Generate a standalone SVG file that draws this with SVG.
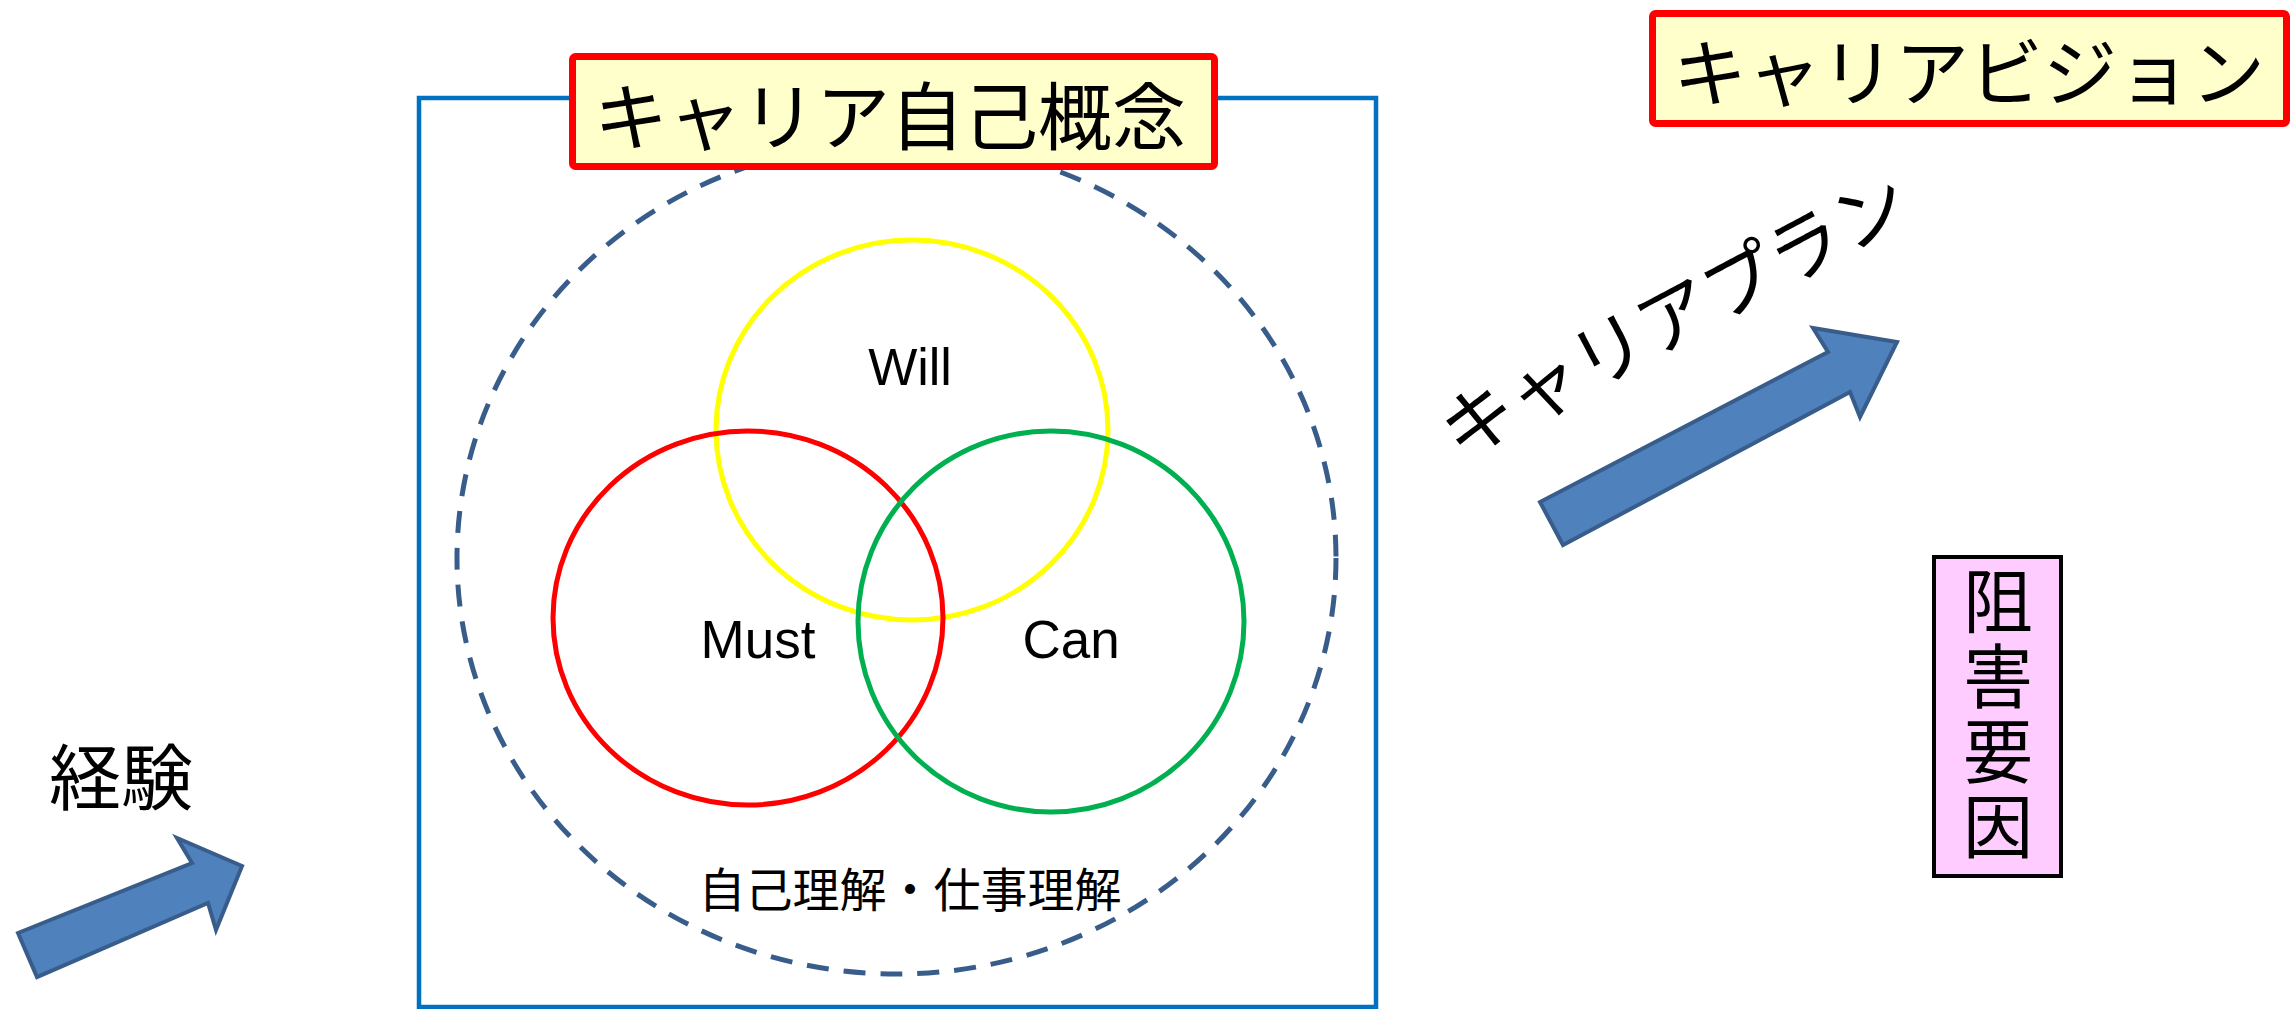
<svg xmlns="http://www.w3.org/2000/svg" width="2293" height="1009" viewBox="0 0 2293 1009">
<style>
  .jp { font-family: "Noto Sans CJK JP", "Noto Sans", sans-serif; fill: #000; }
  .lat { font-family: "Liberation Sans", Arial, sans-serif; fill: #000; }
  .label { fill: #FFFFCC; stroke: #FF0000; stroke-width: 7; }
  .venn { fill: none; stroke-width: 5; }
  .barrow { fill: #4F81BD; stroke: #385D8A; stroke-width: 4; stroke-linejoin: miter; }
</style>
<rect width="2293" height="1009" fill="#FFFFFF"/>

<g id="self-concept-frame">
  <rect x="419" y="98" width="957" height="909" fill="none" stroke="#0070C0" stroke-width="4.5"/>
</g>

<g id="understanding">
  <ellipse cx="896.5" cy="558" rx="439.5" ry="416" fill="none" stroke="#385D8A" stroke-width="5" stroke-dasharray="22 15"/>
  <text class="jp" x="910" y="907" font-size="47" text-anchor="middle">自己理解・仕事理解</text>
</g>

<g id="will">
  <ellipse class="venn" cx="912" cy="430" rx="196" ry="190" stroke="#FFFF00"/>
  <text class="lat" x="910" y="385" font-size="52" text-anchor="middle">Will</text>
</g>
<g id="must">
  <ellipse class="venn" cx="748" cy="618" rx="195" ry="187" stroke="#FF0000"/>
  <text class="lat" x="758" y="658" font-size="53" text-anchor="middle">Must</text>
</g>
<g id="can">
  <ellipse class="venn" cx="1051" cy="621.5" rx="193" ry="190.5" stroke="#00B050"/>
  <text class="lat" x="1071" y="658" font-size="53" text-anchor="middle">Can</text>
</g>

<g id="career-self-concept">
  <rect class="label" x="572.5" y="56.5" width="642" height="110" rx="3"/>
  <text class="jp" x="890" y="144" font-size="74" text-anchor="middle">キャリア自己概念</text>
</g>

<g id="career-vision">
  <rect class="label" x="1652.5" y="13.5" width="634" height="110" rx="3"/>
  <text class="jp" x="1969" y="100" font-size="74" text-anchor="middle">キャリアビジョン</text>
</g>

<g id="career-plan">
  <g transform="translate(1674,315) rotate(-28)">
    <text class="jp" x="0" y="28" font-size="74" text-anchor="middle">キャリアプラン</text>
  </g>
</g>

<g id="experience">
  <text class="jp" x="121" y="804" font-size="72" text-anchor="middle">経験</text>
</g>

<g id="barriers">
  <rect x="1934" y="557" width="127" height="319" fill="#FFCCFF" stroke="#000000" stroke-width="4"/>
  <text class="jp" x="1998" y="566" font-size="70" writing-mode="vertical-rl" letter-spacing="5">阻害要因</text>
</g>

<g id="connectors">
  <polygon class="barrow" points="1540,502 1563,545 1850,392 1860,417 1897,342 1813,328 1828,352"/>
  <polygon class="barrow" points="18,933 37,977 208,903 216,930 242,866 177,838 192,863"/>
</g>
</svg>
